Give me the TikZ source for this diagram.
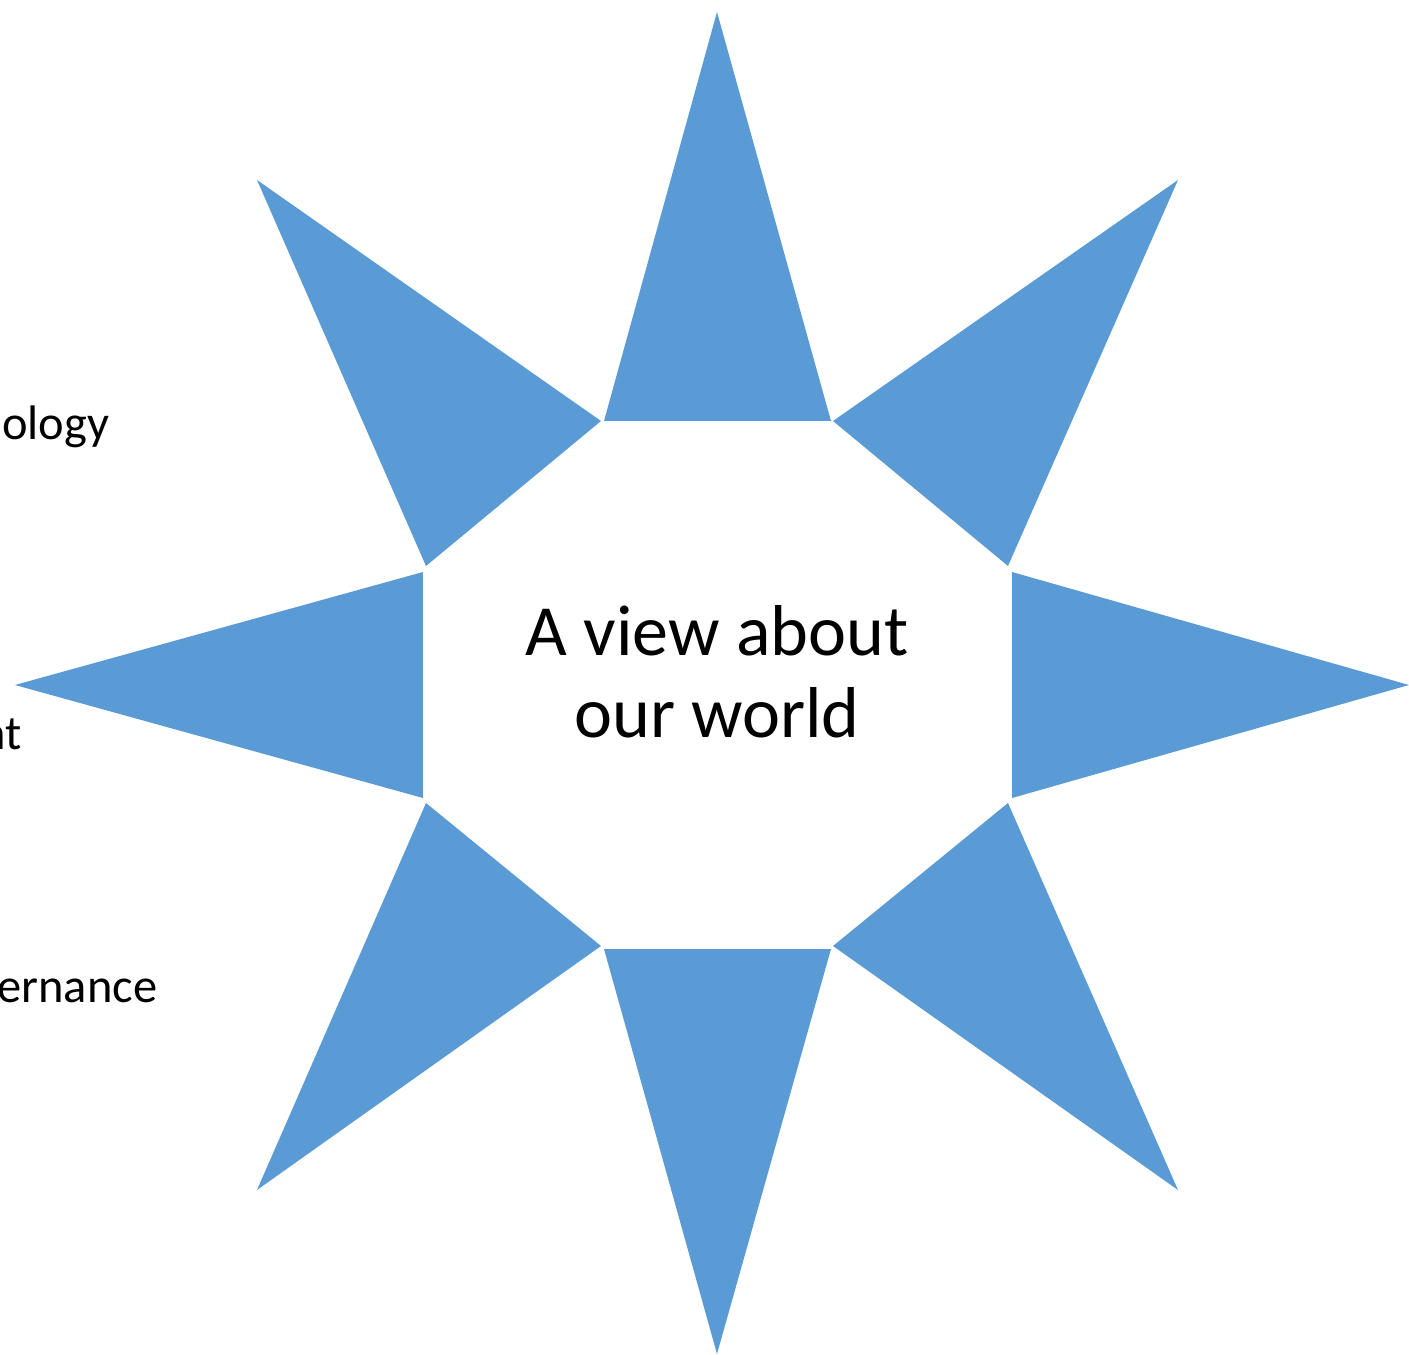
\documentclass[tikz,border=0pt]{standalone}
\usepackage{fontspec}
\setmainfont{Carlito}
\usepackage{tikz,pgf}
\definecolor{rayblue}{HTML}{5B9BD5}
\tikzset{ray/.style={fill=rayblue,draw=none},
  sidetext/.style={anchor=base east,inner sep=0pt,font=\fontsize{13.8}{16}\selectfont}}
\begin{document}
\begin{tikzpicture}[line cap=round,line join=round,x=1.0cm,y=1.0cm]
		\clip(-7.17,-6.69) rectangle (6.92,6.85);
		\fill [ray] (0,6.73) -- (-1.13,2.64) -- (1.14,2.64) -- cycle;
		\fill [ray] (4.61,5.05) -- (1.16,2.64) -- (2.91,1.19) -- cycle;
		\fill [ray] (6.92,0) -- (2.95,1.13) -- (2.95,-1.13) -- cycle;
		\fill [ray] (4.61,-5.05) -- (1.16,-2.61) -- (2.91,-1.18) -- cycle;
		\fill [ray] (0,-6.69) -- (-1.13,-2.64) -- (1.14,-2.64) -- cycle;
		\fill [ray] (-4.60,-5.05) -- (-2.91,-1.18) -- (-1.16,-2.61) -- cycle;
		\fill [ray] (-7.02,0) -- (-2.94,1.13) -- (-2.94,-1.13) -- cycle;
		\fill [ray] (-4.60,5.05) -- (-2.91,1.19) -- (-1.16,2.64) -- cycle;
	
		\node (view) at (0,0.13) [align=center,font=\fontsize{20.5}{23.3}\selectfont] {A view about\\our world};
		\node (tech) at (-6.07,2.45) [sidetext] {ology};
		\node (env) at (-6.95,-0.65) [sidetext] {nt};
		\node (gov) at (-5.59,-3.17) [sidetext] {ernance};
	\end{tikzpicture}
\end{document}
